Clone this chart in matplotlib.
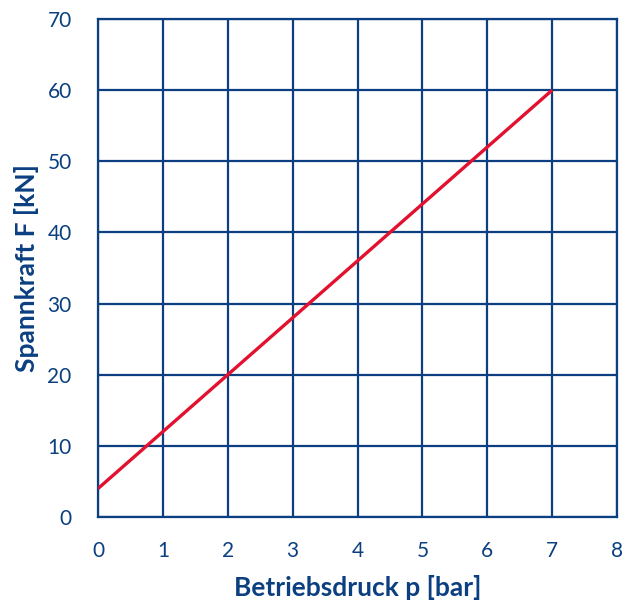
import matplotlib
matplotlib.use('Agg')
import matplotlib.pyplot as plt

# Betriebsdruck p [bar] vs. Spannkraft F [kN]
druck = [0, 7]
kraft = [4, 60]
x_ticks = [0, 1, 2, 3, 4, 5, 6, 7, 8]
y_ticks = [0, 10, 20, 30, 40, 50, 60, 70]

blue = '#0b3f80'
red = '#e2112f'

plt.rcParams['font.family'] = ['Lato', 'DejaVu Sans']

fig = plt.figure(figsize=(6.39, 6.03), dpi=100)
ax = fig.add_axes([0.1534, 0.1426, 0.8122, 0.8259])

ax.plot(druck, kraft, color=red, lw=2.4, solid_capstyle='butt', zorder=3)

ax.set_xlim(0, 8)
ax.set_ylim(0, 70)
ax.set_xticks(x_ticks)
ax.set_yticks(y_ticks)
ax.grid(True, color=blue, lw=1.6)
ax.set_axisbelow(True)
for s in ax.spines.values():
    s.set_color(blue)
    s.set_linewidth(1.6)
ax.tick_params(length=0, labelsize=15, colors=blue)
ax.tick_params(axis='x', pad=17)
ax.tick_params(axis='y', pad=19)

ax.set_xlabel('Betriebsdruck p [bar]', fontsize=19, fontweight='bold', color=blue, labelpad=10)
ax.set_ylabel('Spannkraft F [kN]', fontsize=19, fontweight='bold', color=blue, labelpad=6)

fig.savefig('out.png', dpi=100)
